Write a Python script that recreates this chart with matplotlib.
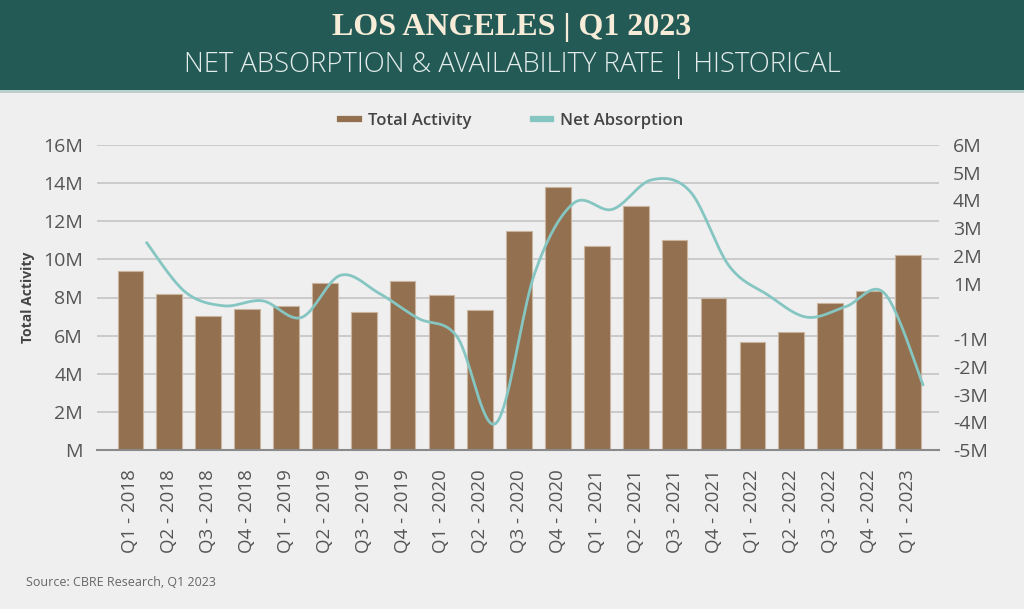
import numpy as np
import matplotlib
matplotlib.use("Agg")
import matplotlib.pyplot as plt
from matplotlib.patches import Rectangle
from matplotlib.lines import Line2D
from matplotlib.ticker import FixedLocator, FixedFormatter

categories = ["Q1 - 2018", "Q2 - 2018", "Q3 - 2018", "Q4 - 2018",
              "Q1 - 2019", "Q2 - 2019", "Q3 - 2019", "Q4 - 2019",
              "Q1 - 2020", "Q2 - 2020", "Q3 - 2020", "Q4 - 2020",
              "Q1 - 2021", "Q2 - 2021", "Q3 - 2021", "Q4 - 2021",
              "Q1 - 2022", "Q2 - 2022", "Q3 - 2022", "Q4 - 2022",
              "Q1 - 2023"]
total_activity = [9.39, 8.18, 7.03, 7.40, 7.55, 8.76, 7.24, 8.87, 8.13, 7.35,
                  11.50, 13.80, 10.70, 12.80, 11.00, 7.97, 5.67, 6.19, 7.71, 8.34, 10.23]
net_absorption = [2.51, 0.71, 0.20, 0.38, -0.22, 1.30, 0.65, -0.25, -0.91, -4.04,
                  1.38, 3.90, 3.68, 4.74, 4.32, 1.64, 0.59, -0.21, 0.17, 0.65, -2.69]
left_ticks = [0, 2, 4, 6, 8, 10, 12, 14, 16]
left_labels = ["M", "2M", "4M", "6M", "8M", "10M", "12M", "14M", "16M"]
right_ticks = [-5, -4, -3, -2, -1, 0, 1, 2, 3, 4, 5, 6]
right_labels = ["-5M", "-4M", "-3M", "-2M", "-1M", "", "1M", "2M", "3M", "4M", "5M", "6M"]

BG = "#EFEFEF"
HEADER = "#235A56"
BAR = "#93704F"
LINE = "#86C6C2"
TXT = "#555555"


def catmull_rom(x, y, n=20):
    x = np.asarray(x, float)
    y = np.asarray(y, float)
    px = np.concatenate([[x[0]], x, [x[-1]]])
    py = np.concatenate([[y[0]], y, [y[-1]]])
    xs, ys = [], []
    t = np.linspace(0, 1, n, endpoint=False)
    for i in range(1, len(px) - 2):
        for arr, out in ((px, xs), (py, ys)):
            p0, p1, p2, p3 = arr[i - 1], arr[i], arr[i + 1], arr[i + 2]
            seg = 0.5 * ((2 * p1) + (-p0 + p2) * t +
                         (2 * p0 - 5 * p1 + 4 * p2 - p3) * t ** 2 +
                         (-p0 + 3 * p1 - 3 * p2 + p3) * t ** 3)
            out.extend(seg)
    xs.append(x[-1])
    ys.append(y[-1])
    return np.array(xs), np.array(ys)


fig = plt.figure(figsize=(10.24, 6.09), dpi=100, facecolor=BG)

# header band
fig.patches.append(Rectangle((0, 1 - 90 / 609), 1, 90 / 609, transform=fig.transFigure,
                             facecolor=HEADER, edgecolor="none", zorder=0))
fig.patches.append(Rectangle((0, 1 - 93 / 609), 1, 3 / 609, transform=fig.transFigure,
                             facecolor="#B9CFCC", edgecolor="none", zorder=0))
fig.text(0.5, 1 - 28 / 609, "LOS ANGELES | Q1 2023", ha="center", va="center",
         fontsize=23, fontweight="bold", family="Liberation Serif", color="#F6ECD8")
fig.text(0.5, 1 - 65 / 609, "NET ABSORPTION & AVAILABILITY RATE | HISTORICAL",
         ha="center", va="center", fontsize=19.8, family="Open Sans", fontweight="light",
         color="#E3ECEA")

ax = fig.add_axes([97 / 1024, 1 - 450 / 609, (939 - 97) / 1024, (450 - 145) / 609])
ax.set_facecolor(BG)
x = np.arange(len(categories))
ax.bar(x, total_activity, width=0.66, color=BAR, edgecolor="#C9B49F", linewidth=0.8, zorder=2)
ax.set_xlim(-0.86, 20.8)
ax.set_ylim(0, 16)
ax.yaxis.set_major_locator(FixedLocator(left_ticks))
ax.yaxis.set_major_formatter(FixedFormatter(left_labels))
ax.grid(axis="y", color="#C8C8C8", linewidth=1.3, zorder=0)
ax.set_axisbelow(True)
for s in ["top", "right", "left"]:
    ax.spines[s].set_visible(False)
ax.spines["bottom"].set_color("#8A8A8A")
ax.spines["bottom"].set_linewidth(1.5)
ax.set_xticks(x)
ax.set_xticklabels(categories, rotation=90, family="Open Sans", fontsize=13.5, color=TXT)
ax.tick_params(axis="x", length=0, pad=14)
ax.tick_params(axis="y", length=0, pad=10, labelsize=14, labelcolor=TXT)
for lab in ax.get_yticklabels():
    lab.set_family("Open Sans")
ax.set_ylabel("Total Activity", family="Open Sans", fontweight="bold", fontsize=10,
              color="#444444", labelpad=6)

ax2 = ax.twinx()
ax2.set_ylim(-5, 6)
ax2.yaxis.set_major_locator(FixedLocator(right_ticks))
ax2.yaxis.set_major_formatter(FixedFormatter(right_labels))
for s in ["top", "right", "left", "bottom"]:
    ax2.spines[s].set_visible(False)
ax2.tick_params(axis="y", length=0, pad=10, labelsize=14, labelcolor=TXT)
for lab in ax2.get_yticklabels():
    lab.set_family("Open Sans")
sx, sy = catmull_rom(x + 0.4, net_absorption)
ax2.plot(sx, sy, color=LINE, linewidth=2.0, solid_capstyle="butt", zorder=3)

handles = [Line2D([0], [0], color=BAR, linewidth=4.5),
           Line2D([0], [0], color=LINE, linewidth=4.5)]
fig.legend(handles, ["Total Activity", "Net Absorption"], loc="center",
           bbox_to_anchor=(0.5, 1 - 121 / 609), ncol=2, frameon=False,
           handlelength=1.1, columnspacing=3.7, handletextpad=0.55,
           prop={"family": "Open Sans", "weight": "semibold", "size": 12}, labelcolor="#444444")

fig.text(26 / 1024, 1 - 583 / 609, "Source: CBRE Research, Q1 2023", ha="left", va="center",
         fontsize=9, family="Open Sans", color="#666666")

fig.savefig("out.png", dpi=100, facecolor=BG)
